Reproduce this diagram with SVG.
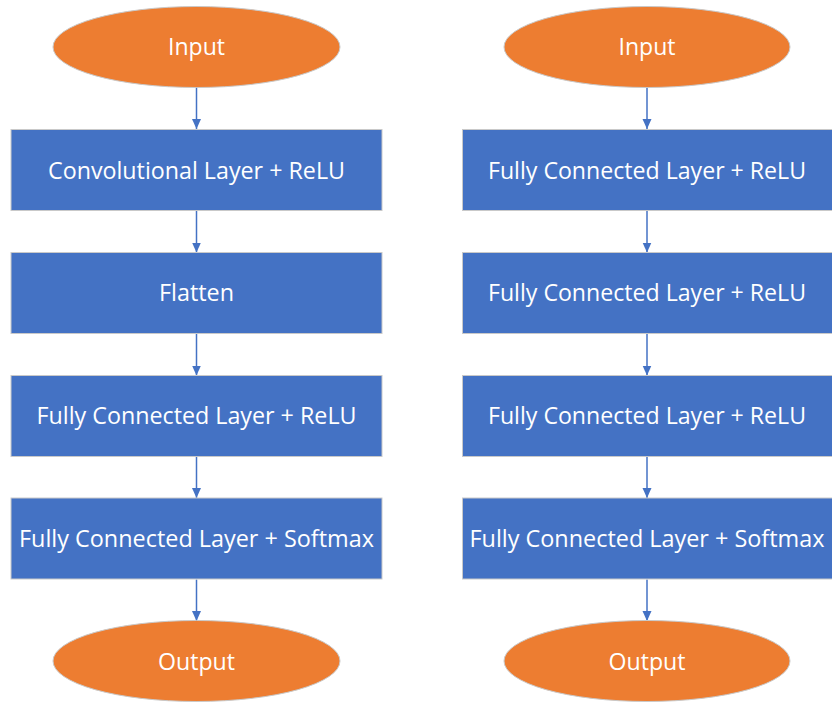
<svg xmlns="http://www.w3.org/2000/svg" width="832" height="702" viewBox="0 0 832 702">
  <style>
    .term { fill: #ED7D31; stroke: #C9C9C9; stroke-width: 1; }
    .step { fill: #4472C4; stroke: #C9C9C9; stroke-width: 1; }
    .label { fill: #FFFFFF; font-family: "Open Sans", "Liberation Sans", sans-serif; font-size: 24px; text-anchor: middle; }
    .link { stroke: #4472C4; stroke-width: 1.5; fill: none; marker-end: url(#arrow); }
  </style>
  <defs>
    <marker id="arrow" markerUnits="userSpaceOnUse" markerWidth="10" markerHeight="11" refX="10" refY="5" orient="auto">
      <path d="M0,0.5 L10,5 L0,9.5 Z" fill="#4472C4"/>
    </marker>
  </defs>
  <rect width="832" height="702" fill="#FFFFFF"/>

  <!-- connectors -->
  <g id="connectors">
    <line class="link" x1="196.5" y1="87.5" x2="196.5" y2="129"/>
    <line class="link" x1="196.5" y1="210.5" x2="196.5" y2="252.5"/>
    <line class="link" x1="196.5" y1="333.5" x2="196.5" y2="375.5"/>
    <line class="link" x1="196.5" y1="456.5" x2="196.5" y2="498"/>
    <line class="link" x1="196.5" y1="579.5" x2="196.5" y2="621"/>

    <line class="link" x1="647" y1="87.5" x2="647" y2="129"/>
    <line class="link" x1="647" y1="210.5" x2="647" y2="252.5"/>
    <line class="link" x1="647" y1="333.5" x2="647" y2="375.5"/>
    <line class="link" x1="647" y1="456.5" x2="647" y2="498"/>
    <line class="link" x1="647" y1="579.5" x2="647" y2="621"/>
  </g>

  <!-- left column: convolutional network -->
  <g id="cnn-input">
    <ellipse class="term" cx="196.5" cy="47" rx="143.5" ry="40.5"/>
    <text class="label" x="196.5" y="55" textLength="57" lengthAdjust="spacingAndGlyphs">Input</text>
  </g>
  <g id="cnn-conv">
    <rect class="step" x="11" y="129.5" width="371" height="81"/>
    <text class="label" x="196.5" y="178.5" textLength="297" lengthAdjust="spacingAndGlyphs">Convolutional Layer + ReLU</text>
  </g>
  <g id="cnn-flatten">
    <rect class="step" x="11" y="252.5" width="371" height="81"/>
    <text class="label" x="196.5" y="301" textLength="75" lengthAdjust="spacingAndGlyphs">Flatten</text>
  </g>
  <g id="cnn-fc">
    <rect class="step" x="11" y="375.5" width="371" height="81"/>
    <text class="label" x="196.5" y="424" textLength="320" lengthAdjust="spacingAndGlyphs">Fully Connected Layer + ReLU</text>
  </g>
  <g id="cnn-softmax">
    <rect class="step" x="11" y="498" width="371" height="81"/>
    <text class="label" x="196.5" y="547" textLength="355" lengthAdjust="spacingAndGlyphs">Fully Connected Layer + Softmax</text>
  </g>
  <g id="cnn-output">
    <ellipse class="term" cx="196.5" cy="661" rx="143.5" ry="40.5"/>
    <text class="label" x="196.5" y="670" textLength="77" lengthAdjust="spacingAndGlyphs">Output</text>
  </g>

  <!-- right column: fully connected network -->
  <g id="mlp-input">
    <ellipse class="term" cx="647" cy="47" rx="143" ry="40.5"/>
    <text class="label" x="647" y="55" textLength="57" lengthAdjust="spacingAndGlyphs">Input</text>
  </g>
  <g id="mlp-fc1">
    <rect class="step" x="462.5" y="129.5" width="371" height="81"/>
    <text class="label" x="647" y="178.5" textLength="318" lengthAdjust="spacingAndGlyphs">Fully Connected Layer + ReLU</text>
  </g>
  <g id="mlp-fc2">
    <rect class="step" x="462.5" y="252.5" width="371" height="81"/>
    <text class="label" x="647" y="301" textLength="318" lengthAdjust="spacingAndGlyphs">Fully Connected Layer + ReLU</text>
  </g>
  <g id="mlp-fc3">
    <rect class="step" x="462.5" y="375.5" width="371" height="81"/>
    <text class="label" x="647" y="424" textLength="318" lengthAdjust="spacingAndGlyphs">Fully Connected Layer + ReLU</text>
  </g>
  <g id="mlp-softmax">
    <rect class="step" x="462.5" y="498" width="371" height="81"/>
    <text class="label" x="647" y="547" textLength="355" lengthAdjust="spacingAndGlyphs">Fully Connected Layer + Softmax</text>
  </g>
  <g id="mlp-output">
    <ellipse class="term" cx="647" cy="661" rx="143" ry="40.5"/>
    <text class="label" x="647" y="670" textLength="77" lengthAdjust="spacingAndGlyphs">Output</text>
  </g>
</svg>
